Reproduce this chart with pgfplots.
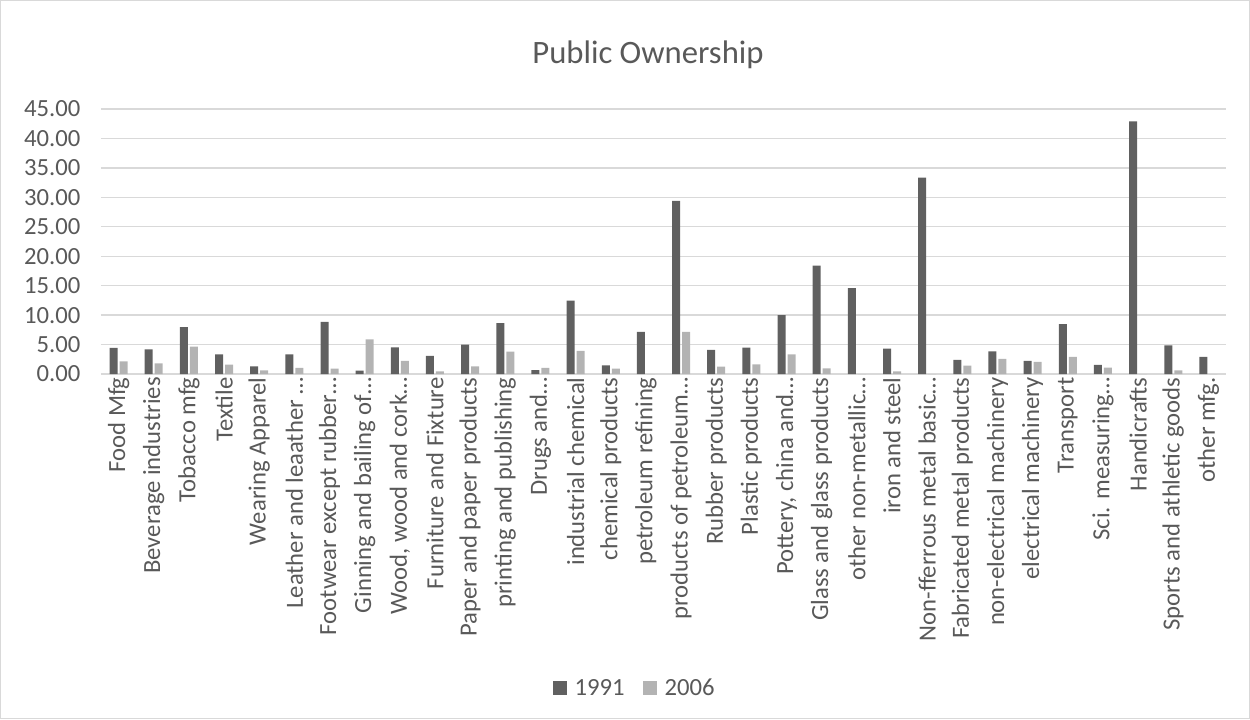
\documentclass[border=0pt]{standalone}
\usepackage{fontspec}
\setmainfont{Carlito}
\usepackage{pgfplots}
\pgfplotsset{compat=1.18}
\definecolor{txt}{HTML}{595959}
\definecolor{gridc}{HTML}{D9D9D9}
\definecolor{dark}{HTML}{606060}
\definecolor{light}{HTML}{B3B3B3}
\begin{document}
\begin{tikzpicture}
\draw[gridc, line width=0.9pt] (0.45pt,0.45pt) rectangle (937.05pt,538.8pt);
\node[txt, font=\fontsize{24.5}{28}\selectfont] at (486pt,498pt) {Public Ownership};
\begin{axis}[
  at={(75.75pt,258.75pt)}, anchor=south west,
  scale only axis, width=843.75pt, height=198.75pt,
  ybar=1.5pt, bar width=6pt,
  xmin=-0.5, xmax=31.5, ymin=0, ymax=45,
  ytick={0,5,...,45},
  xtick={0,...,31},
  xticklabels={Food Mfg, Beverage industries, Tobacco mfg, Textile, Wearing Apparel, Leather and leaather …, Footwear except rubber…, Ginning and bailing of…, {Wood, wood and cork…}, Furniture and Fixture, Paper and paper products, printing and publishing, Drugs and…, industrial chemical, chemical products, petroleum refining, products of petroleum…, Rubber products, Plastic products, {Pottery, china and…}, Glass and glass products, other non-metallic…, iron and steel, Non-fferrous metal basic…, Fabricated metal products, non-electrical machinery, electrical machinery, Transport, Sci. measuring…, Handicrafts, Sports and athletic goods, other mfg.},
  x tick label style={rotate=90, anchor=east, font=\fontsize{18.5}{21}\selectfont, text=txt, xshift=1pt},
  y tick label style={font=\fontsize{18.5}{21}\selectfont, text=txt, xshift=-12pt},
  /pgf/number format/assume math mode=true,
  yticklabel style={/pgf/number format/.cd, fixed, fixed zerofill, precision=2},
  major tick length=0pt,
  axis line style={draw=none},
  ymajorgrids, grid style={gridc, line width=1pt},
  legend style={at={(0.475,-1.185)}, anchor=center, draw=none, fill=none, legend columns=2, font=\fontsize{18.5}{21}\selectfont, text=txt, /tikz/every odd column/.append style={column sep=3.5pt}, /tikz/every even column/.append style={column sep=12pt}},
  legend image code/.code={\fill[#1] (0pt,-5.25pt) rectangle (10.5pt,5.25pt);},
  clip=false,
]
\addplot[fill=dark, draw=none] coordinates {
(0,4.42) (1,4.20) (2,7.94) (3,3.34) (4,1.30) (5,3.34) (6,8.84) (7,0.57) (8,4.54) (9,3.06)
(10,4.99) (11,8.62) (12,0.68) (13,12.47) (14,1.47) (15,7.14) (16,29.42) (17,4.08) (18,4.48) (19,9.98)
(20,18.42) (21,14.57) (22,4.31) (23,33.33) (24,2.38) (25,3.85) (26,2.21) (27,8.45) (28,1.53) (29,42.91)
(30,4.88) (31,2.89)};
\addplot[fill=light, draw=none] coordinates {
(0,2.15) (1,1.81) (2,4.65) (3,1.59) (4,0.62) (5,1.02) (6,0.91) (7,5.90) (8,2.21) (9,0.45)
(10,1.30) (11,3.80) (12,1.02) (13,3.91) (14,0.91) (15,0) (16,7.14) (17,1.25) (18,1.64) (19,3.34)
(20,0.96) (21,0) (22,0.45) (23,0) (24,1.42) (25,2.55) (26,2.04) (27,2.89) (28,1.08) (29,0)
(30,0.62) (31,0)};
\legend{1991,2006}
\end{axis}
\end{tikzpicture}
\end{document}
